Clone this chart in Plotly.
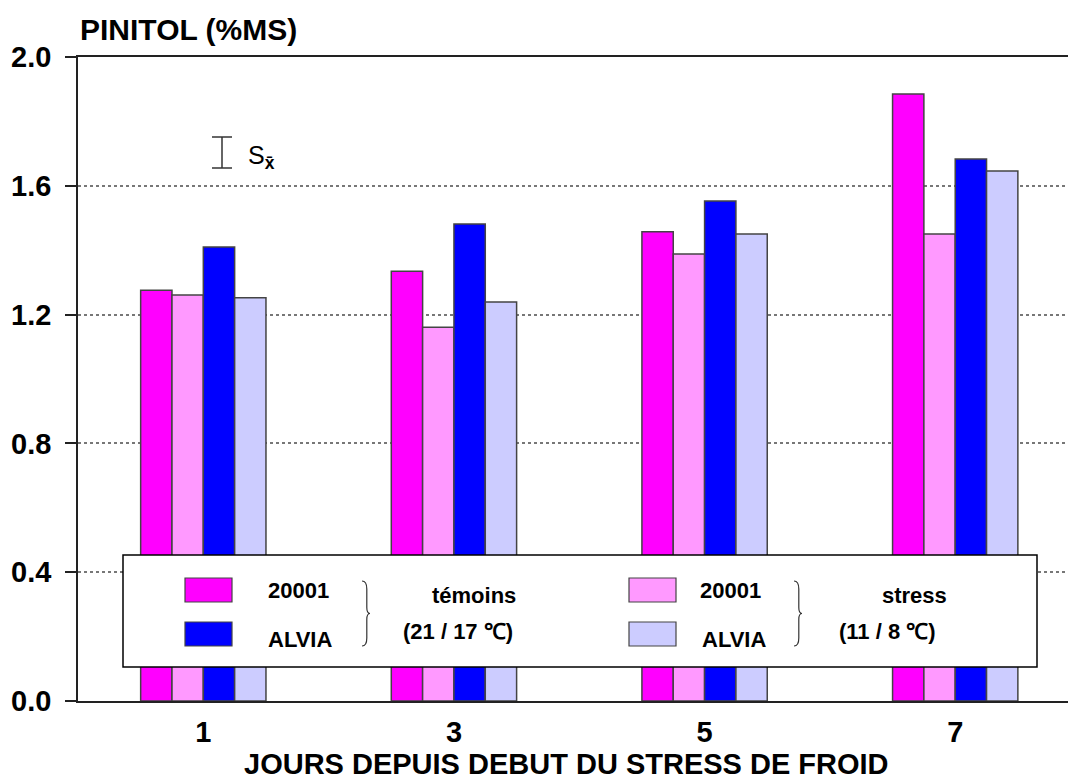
import plotly.graph_objects as go

days = [1, 3, 5, 7]
series_names = ["20001 témoins", "20001 stress", "ALVIA témoins", "ALVIA stress"]
v_20001_temoin = [1.276, 1.335, 1.457, 1.885]
v_20001_stress = [1.261, 1.161, 1.388, 1.450]
v_alvia_temoin = [1.410, 1.481, 1.553, 1.683]
v_alvia_stress = [1.252, 1.239, 1.450, 1.646]
colors = ["#FF00FF", "#FF99FF", "#0000FF", "#CCCCFF"]
y_ticks = [0.0, 0.4, 0.8, 1.2, 1.6, 2.0]

FONT = "Liberation Sans, Arial, sans-serif"

fig = go.Figure()
for name, vals, col in zip(series_names,
                           [v_20001_temoin, v_20001_stress, v_alvia_temoin, v_alvia_stress],
                           colors):
    fig.add_trace(go.Bar(x=days, y=vals, name=name, marker_color=col,
                         marker_line=dict(color="#444444", width=1.5),
                         showlegend=False))

# pixel -> paper helpers (plot area 78..1068 x, 57..701 y)
L, R, T, B = 78, 1068, 57, 701
def px(x):
    return (x - L) / (R - L)
def py(y):
    return (B - y) / (B - T)

shapes = []
annotations = []

# legend box
shapes.append(dict(type="rect", xref="paper", yref="paper",
                   x0=px(123), x1=px(1037), y0=py(667), y1=py(555),
                   fillcolor="white", line=dict(color="black", width=1.5), layer="above"))
# legend squares
for (x0, x1, y0, y1, col) in [(185, 232, 578, 602, colors[0]),
                              (185, 232, 622, 646, colors[2]),
                              (629, 676, 578, 602, colors[1]),
                              (629, 676, 622, 646, colors[3])]:
    shapes.append(dict(type="rect", xref="paper", yref="paper",
                       x0=px(x0), x1=px(x1), y0=py(y1), y1=py(y0),
                       fillcolor=col, line=dict(color="#444444", width=1.2), layer="above"))

def brace(xl, ytop, ybot, w=8):
    xm = xl + w
    ym = (ytop + ybot) / 2
    pts = [
        f"M {px(xl)},{py(ytop)}",
        f"Q {px(xl + w * 0.6)},{py(ytop)} {px(xl + w * 0.6)},{py(ytop + 8)}",
        f"L {px(xl + w * 0.6)},{py(ym - 6)}",
        f"Q {px(xl + w * 0.6)},{py(ym)} {px(xm)},{py(ym)}",
        f"Q {px(xl + w * 0.6)},{py(ym)} {px(xl + w * 0.6)},{py(ym + 6)}",
        f"L {px(xl + w * 0.6)},{py(ybot - 8)}",
        f"Q {px(xl + w * 0.6)},{py(ybot)} {px(xl)},{py(ybot)}",
    ]
    return dict(type="path", xref="paper", yref="paper", path=" ".join(pts),
                line=dict(color="#333333", width=1.2), layer="above")

shapes.append(brace(362, 581, 646))
shapes.append(brace(794, 581, 646))

def txt(x, y, s, size=22, bold=True):
    annotations.append(dict(xref="paper", yref="paper", x=px(x), y=py(y), text=s,
                            showarrow=False, xanchor="center", yanchor="middle",
                            font=dict(family=FONT, size=size, color="black",
                                      weight="bold" if bold else "normal")))

txt(298, 590, "20001")
txt(300, 639, "ALVIA")
txt(474, 595, "témoins")
txt(458, 631, "(21 / 17 ℃)")
txt(730, 590, "20001")
txt(734, 639, "ALVIA")
txt(914, 595, "stress")
txt(887, 631, "(11 / 8 ℃)")

# standard error symbol
shapes.append(dict(type="line", xref="paper", yref="paper", x0=px(222), x1=px(222),
                   y0=py(137), y1=py(168), line=dict(color="#333333", width=1.5)))
for yy in (137, 168):
    shapes.append(dict(type="line", xref="paper", yref="paper", x0=px(212), x1=px(232),
                       y0=py(yy), y1=py(yy), line=dict(color="#333333", width=1.5)))
annotations.append(dict(xref="paper", yref="paper", x=px(246), y=py(157),
                        text="S<sub><b>x̄</b></sub>", showarrow=False, xanchor="left",
                        yanchor="middle",
                        font=dict(family=FONT, size=25, color="black")))

# titles
annotations.append(dict(xref="paper", yref="paper", x=0, y=1, xanchor="left",
                        yanchor="bottom", yshift=9, text="PINITOL (%MS)", showarrow=False,
                        font=dict(family=FONT, size=30, color="black", weight="bold")))
annotations.append(dict(xref="paper", yref="paper", x=px(566), y=0, xanchor="center",
                        yanchor="top", yshift=-45,
                        text="JOURS DEPUIS DEBUT DU STRESS DE FROID", showarrow=False,
                        font=dict(family=FONT, size=29, color="black", weight="bold")))

fig.update_layout(
    width=1068, height=783,
    margin=dict(l=L, r=1068 - R, t=T, b=783 - B),
    plot_bgcolor="white", paper_bgcolor="white",
    barmode="group", bargap=0.5, bargroupgap=0.0,
    shapes=shapes, annotations=annotations,
    font=dict(family=FONT, color="black"),
)
fig.update_xaxes(range=[0, 7.9], tickvals=days, ticktext=[str(d) for d in days],
                 showline=True, mirror=True, linecolor="#222222", linewidth=2,
                 showgrid=False, zeroline=False, ticks="", ticklabelstandoff=4,
                 tickfont=dict(family=FONT, size=29, weight="bold", color="black"))
fig.update_yaxes(range=[0, 2.0], tickvals=y_ticks, tickformat=".1f",
                 showline=True, linecolor="#222222", linewidth=1.5,
                 ticks="outside", ticklen=11, tickwidth=1.5, tickcolor="#222222",
                 ticklabelstandoff=8,
                 showgrid=True, gridcolor="#777777", griddash="dot", gridwidth=1.5,
                 zeroline=False,
                 tickfont=dict(family=FONT, size=29, weight="bold", color="black"))

fig.write_html("out.html")
